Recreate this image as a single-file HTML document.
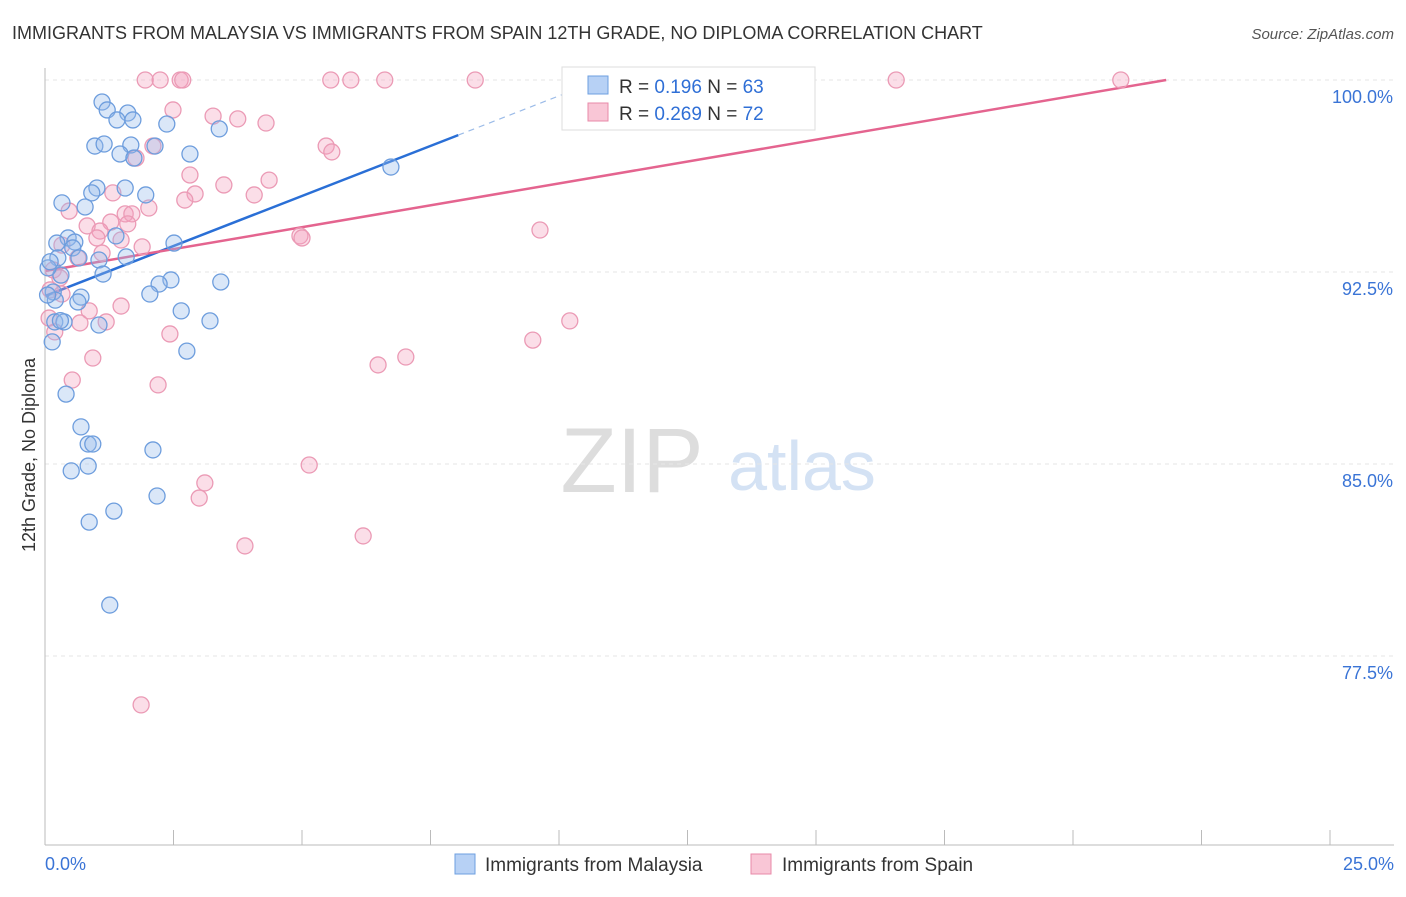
<!DOCTYPE html>
<html><head><meta charset="utf-8"><style>
body{margin:0;background:#fff;font-family:"Liberation Sans",sans-serif}
svg text{font-family:"Liberation Sans",sans-serif}
</style></head><body>
<svg id="c" width="1406" height="892" xmlns="http://www.w3.org/2000/svg">
<text x="12" y="39" font-size="18" fill="#333">IMMIGRANTS FROM MALAYSIA VS IMMIGRANTS FROM SPAIN 12TH GRADE, NO DIPLOMA CORRELATION CHART</text>
<text x="1394" y="39" font-size="15" fill="#555" font-style="italic" text-anchor="end">Source: ZipAtlas.com</text>
<text x="35" y="455" font-size="18" fill="#333" text-anchor="middle" transform="rotate(-90 35 455)">12th Grade, No Diploma</text>
<g><text x="632" y="492" font-size="92" fill="#ddd" font-family="Liberation Serif" text-anchor="middle">ZIP</text><text x="802" y="490" font-size="70" fill="#d4e2f4" text-anchor="middle">atlas</text></g>
<g id="grid"></g><g id="lines"></g><g id="pts"></g>
<g>
<rect x="562" y="67" width="253" height="63" fill="#fff" stroke="#ddd"/>
<rect x="588" y="76" width="20" height="18" fill="#b7d1f5" stroke="#6e9fe0"/>
<text x="619" y="93" font-size="19" fill="#333">R = <tspan fill="#2f6fd6">0.196</tspan>   N = <tspan fill="#2f6fd6">63</tspan></text>
<rect x="588" y="103" width="20" height="18" fill="#f9c6d6" stroke="#e88aa8"/>
<text x="619" y="120" font-size="19" fill="#333">R = <tspan fill="#2f6fd6">0.269</tspan>   N = <tspan fill="#2f6fd6">72</tspan></text>
</g>
<g>
<rect x="455" y="854" width="20" height="20" fill="#b7d1f5" stroke="#6e9fe0"/>
<text x="485" y="871" font-size="19" fill="#333">Immigrants from Malaysia</text>
<rect x="751" y="854" width="20" height="20" fill="#f9c6d6" stroke="#e88aa8"/>
<text x="782" y="871" font-size="19" fill="#333">Immigrants from Spain</text>
</g>
</svg>
<script>
const yTicks=[100,92.5,85,77.5];
const xTickLabels=["0.0%","25.0%"];
const blueX=[1.11,1.21,1.61,1.40,1.71,2.37,3.39,0.97,1.15,1.67,2.14,1.46,1.73,2.82,6.73,1.01,1.56,0.91,1.96,0.33,0.78,0.45,0.23,0.58,0.54,1.38,2.51,0.25,1.05,1.58,0.66,0.31,1.13,0.06,2.45,2.22,3.42,0.16,2.04,0.70,0.64,2.65,0.19,0.37,1.05,3.21,0.14,2.76,0.41,0.70,0.84,0.93,2.10,0.51,0.84,2.18,1.34,0.86,1.26,0.10,0.20,0.05,0.30];
const blueY=[99.14,98.83,98.71,98.44,98.44,98.28,98.09,97.42,97.50,97.46,97.42,97.11,96.95,97.11,96.60,95.78,95.78,95.59,95.51,95.20,95.04,93.83,93.63,93.67,93.44,93.91,93.63,93.05,92.97,93.09,93.05,92.38,92.42,92.66,92.19,92.03,92.11,91.72,91.64,91.52,91.33,90.98,90.55,90.55,90.43,90.59,89.77,89.41,87.73,86.45,85.78,85.78,85.55,84.73,84.92,83.75,83.16,82.73,79.49,92.9,91.4,91.6,90.6];
const pinkX=[1.95,2.24,2.63,2.68,5.56,5.95,6.61,8.37,11.96,16.56,20.93,2.49,3.27,3.75,4.30,5.47,5.58,2.10,1.77,2.82,3.48,4.36,1.32,2.92,2.72,4.07,0.47,2.02,1.56,1.69,1.28,1.61,0.82,1.07,1.01,1.48,1.89,0.33,4.96,5.00,9.63,0.64,1.11,0.16,0.29,0.10,0.33,0.86,1.48,0.68,1.19,0.08,0.19,2.43,10.21,9.49,7.02,6.48,0.93,0.53,2.20,5.14,3.11,3.00,6.19,3.89,1.87];
const pinkY=[100,100,100,100,100,100,100,100,100,100,100,98.83,98.59,98.48,98.32,97.42,97.19,97.42,96.95,96.29,95.90,96.09,95.59,95.55,95.31,95.51,94.88,95.00,94.77,94.77,94.45,94.38,94.30,94.10,93.83,93.75,93.48,93.55,93.91,93.83,94.14,93.05,93.24,92.58,92.27,91.80,91.64,90.98,91.17,90.51,90.55,90.70,90.16,90.08,90.59,89.84,89.18,88.87,89.14,88.28,88.09,84.96,84.26,83.67,82.19,81.80,75.59];
const blueTrend=[91.56,0.782];
const pinkTrend=[92.54,0.342];
const X=v=>45+v/2.5*128.5, Y=v=>80+(100-v)/7.5*192;
const NS="http://www.w3.org/2000/svg";
function mk(p,t,a){const e=document.createElementNS(NS,t);for(const k in a)e.setAttribute(k,a[k]);p.appendChild(e);return e;}
const g=document.getElementById('grid');
yTicks.forEach(t=>{
 const l=mk(g,'line',{x1:45,x2:1394,y1:Y(t),y2:Y(t),stroke:'#e6e6e6','stroke-dasharray':'4,4'});
 
 
 const tx=mk(g,'text',{x:1393,y:Y(t)+23,'font-size':18,fill:'#3a74d6','text-anchor':'end'});tx.textContent=t.toFixed(1)+'%';
 
 
});
const ax=mk(g,'line',{x1:45,x2:45,y1:68,y2:845,stroke:'#bbb'});


const bx=mk(g,'line',{x1:45,x2:1394,y1:845,y2:845,stroke:'#bbb'});


for(let i=0;i<=10;i++){const t=mk(g,'line',{x1:X(i*2.5),x2:X(i*2.5),y1:830,y2:845,stroke:'#bbb'});
 
 }
[[0,45,'start'],[1,1394,'end']].forEach(([i,x,a])=>{const t=mk(g,'text',{x:x,y:870,'font-size':18,fill:'#3a74d6','text-anchor':a});t.textContent=xTickLabels[i];
 
 });
const L=document.getElementById('lines');
const bEnd=(100-blueTrend[0])/blueTrend[1];
const b1=mk(L,'line',{x1:X(0),y1:Y(blueTrend[0]),x2:X(8.04),y2:Y(blueTrend[0]+blueTrend[1]*8.04),stroke:'#2a6fd6','stroke-width':2.5});


const b2=mk(L,'line',{x1:X(8.04),y1:Y(blueTrend[0]+blueTrend[1]*8.04),x2:X(bEnd),y2:Y(100),stroke:'#9bbbe8','stroke-width':1.2,'stroke-dasharray':'6,5'});


const pEnd=(100-pinkTrend[0])/pinkTrend[1];
const p1=mk(L,'line',{x1:X(0),y1:Y(pinkTrend[0]),x2:X(pEnd),y2:Y(100),stroke:'#e4648f','stroke-width':2.5});


const P=document.getElementById('pts');
pinkX.forEach((v,i)=>{const c=mk(P,'circle',{cx:X(v),cy:Y(pinkY[i]),r:8,fill:'rgba(244,160,188,0.35)',stroke:'#eb9ab5','stroke-width':1.3});
 
 });
blueX.forEach((v,i)=>{const c=mk(P,'circle',{cx:X(v),cy:Y(blueY[i]),r:8,fill:'rgba(150,185,235,0.35)',stroke:'#6d9ddd','stroke-width':1.3});
 
 });
</script>
</body></html>
